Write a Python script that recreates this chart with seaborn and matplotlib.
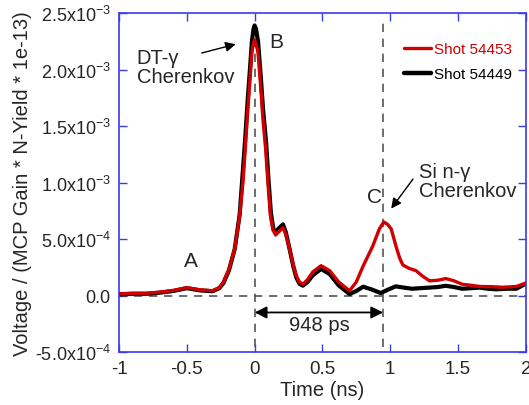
import matplotlib
matplotlib.use("Agg")
import matplotlib.pyplot as plt
from matplotlib.lines import Line2D
import numpy as np
import pandas as pd
import seaborn as sns

# time (ns) and normalised voltage (x1e-4)
t_red = [-1.0, -0.9, -0.8, -0.7, -0.6, -0.5, -0.4, -0.31, -0.26, -0.23, -0.19, -0.147,
         -0.11, -0.086, -0.069, -0.05, -0.037, -0.02, -0.008, 0.0, 0.01, 0.025, 0.044,
         0.062, 0.081, 0.098, 0.116, 0.135, 0.155, 0.175, 0.209, 0.23, 0.258, 0.285,
         0.307, 0.33, 0.356, 0.39, 0.43, 0.49, 0.553, 0.62, 0.70, 0.75, 0.80, 0.872,
         0.92, 0.953, 0.98, 1.007, 1.044, 1.07, 1.093, 1.14, 1.19, 1.24, 1.29, 1.35,
         1.41, 1.47, 1.53, 1.6, 1.66, 1.75, 1.83, 1.93, 2.0]
v_red = [0.15, 0.2, 0.2, 0.3, 0.45, 0.7, 0.5, 0.42, 0.7, 1.2, 2.3, 4.1,
         7.1, 10.0, 13.0, 16.5, 18.6, 21.5, 22.4, 22.6, 22.3, 21.5, 18.6,
         15.5, 13.0, 10.0, 7.1, 5.8, 5.35, 5.6, 6.0, 5.4, 4.1, 2.7,
         1.75, 1.2, 1.0, 1.4, 2.1, 2.64, 2.2, 1.2, 0.42, 1.2, 2.6, 4.4,
         5.9, 6.5, 6.3, 5.9, 4.3, 3.3, 2.7, 2.4, 2.2, 1.7, 1.3, 1.35,
         1.5, 1.3, 1.0, 0.9, 0.8, 0.78, 0.73, 0.8, 1.1]

t_black = [-1.0, -0.9, -0.8, -0.7, -0.6, -0.5, -0.4, -0.31, -0.26, -0.23, -0.19, -0.147,
           -0.11, -0.09, -0.07, -0.05, -0.037, -0.02, -0.008, 0.0, 0.01, 0.025, 0.044,
           0.062, 0.085, 0.102, 0.12, 0.138, 0.155, 0.175, 0.209, 0.23, 0.258, 0.285,
           0.307, 0.33, 0.356, 0.39, 0.43, 0.49, 0.553, 0.62, 0.70, 0.75, 0.80, 0.86,
           0.93, 0.98, 1.04, 1.1, 1.16, 1.22, 1.29, 1.35, 1.41, 1.47, 1.53, 1.6,
           1.66, 1.72, 1.78, 1.86, 1.93, 2.0]
v_black = [0.1, 0.15, 0.15, 0.25, 0.4, 0.65, 0.45, 0.38, 0.65, 1.1, 2.2, 4.1,
           7.2, 10.5, 13.8, 17.5, 19.6, 22.5, 23.6, 23.9, 23.6, 22.5, 19.6,
           16.5, 13.5, 10.3, 7.3, 5.9, 5.6, 5.9, 6.3, 5.6, 4.1, 2.6,
           1.6, 1.05, 0.87, 1.2, 1.8, 2.35, 1.9, 0.9, 0.13, 0.4, 0.78, 0.55,
           0.22, 0.5, 0.81, 0.7, 0.6, 0.65, 0.7, 0.75, 0.86, 0.75, 0.6, 0.65,
           0.7, 0.6, 0.55, 0.6, 0.6, 1.05]

shots = ["Shot 54453", "Shot 54449"]
x_ticks = [-1, -0.5, 0, 0.5, 1, 1.5, 2]
x_labels = ["-1", "-0.5", "0", "0.5", "1", "1.5", "2"]
y_ticks = [-5e-4, 0, 5e-4, 1e-3, 1.5e-3, 2e-3, 2.5e-3]
y_labels = ["-5.0x10$^{-4}$", "0.0", "5.0x10$^{-4}$", "1.0x10$^{-3}$",
            "1.5x10$^{-3}$", "2.0x10$^{-3}$", "2.5x10$^{-3}$"]

df = pd.concat([
    pd.DataFrame({"t": t_black, "v": np.array(v_black) * 1e-4, "shot": shots[1]}),
    pd.DataFrame({"t": t_red, "v": np.array(v_red) * 1e-4, "shot": shots[0]}),
])

sns.set_style("ticks")
plt.rcParams["font.family"] = ["Liberation Sans", "DejaVu Sans"]
plt.rcParams["mathtext.fontset"] = "custom"
plt.rcParams["mathtext.rm"] = "Liberation Sans"
plt.rcParams["mathtext.it"] = "Liberation Sans:italic"

red = "#d00000"
blue = "#3a3aee"

fig = plt.figure(figsize=(5.29, 4.06), dpi=100)
ax = fig.add_axes([0.225, 0.1305, 0.769, 0.835])

# reference lines
ax.axhline(0, color="#555555", lw=1.2, ls=(0, (5, 4)), zorder=1)
ax.vlines([0, 0.948], [-4.6e-4, -4.6e-4], [2.3e-3, 2.42e-3],
          color="#555555", lw=1.2, linestyles=(0, (5, 4)), zorder=1)

sns.lineplot(data=df, x="t", y="v", hue="shot", hue_order=shots,
             palette={shots[0]: red, shots[1]: "black"}, sort=False,
             estimator=None, ax=ax, legend=False, zorder=3)
for ln in ax.get_lines():
    ln.set_solid_joinstyle("round")
    if ln.get_color() == "black":
        ln.set_linewidth(3.0)
        ln.set_zorder(2)
    elif ln.get_color() == red:
        ln.set_linewidth(2.4)
        ln.set_zorder(3)

handles = [Line2D([], [], color=red, lw=2.4), Line2D([], [], color="black", lw=3.2)]
ax.legend(handles, shots, loc="upper right", bbox_to_anchor=(1.0, 0.955),
          frameon=False, fontsize=11, handlelength=1.8, handletextpad=0.2,
          labelspacing=0.75, labelcolor=[red, "black"])

ax.set_xlim(-1, 2)
ax.set_ylim(-5e-4, 2.5e-3)
ax.set_xticks(x_ticks)
ax.set_xticklabels(x_labels, fontsize=13.5)
ax.set_yticks(y_ticks)
ax.set_yticklabels(y_labels, fontsize=13)
ax.tick_params(direction="in", length=6, width=1, color=blue,
               top=True, right=True, pad=6)
for sp in ax.spines.values():
    sp.set_color(blue)
    sp.set_linewidth(1.2)
ax.set_xlabel("Time (ns)", fontsize=14.5, labelpad=2)
ax.set_ylabel("Voltage / (MCP Gain * N-Yield * 1e-13)", fontsize=14.5, labelpad=2)

# annotations
ax.text(-0.47, 3.1e-4, "A", fontsize=15, ha="center", va="center")
ax.text(0.16, 2.25e-3, "B", fontsize=15, ha="center", va="center")
ax.text(0.885, 8.8e-4, "C", fontsize=15, ha="center", va="center")
ax.text(-0.87, 2.02e-3, "DT-γ\nCherenkov", fontsize=14.5, ha="left", va="center",
        linespacing=1.0)
ax.annotate("", xy=(-0.12, 2.23e-3), xytext=(-0.41, 2.14e-3),
            arrowprops=dict(arrowstyle="-|>", color="black", lw=1, mutation_scale=15))
ax.text(1.215, 1.016e-3, "Si n-γ\nCherenkov", fontsize=14.5, ha="left", va="center",
        linespacing=1.0)
ax.annotate("", xy=(0.995, 7.5e-4), xytext=(1.18, 1.05e-3),
            arrowprops=dict(arrowstyle="-|>", color="black", lw=1, mutation_scale=15))
ax.annotate("", xy=(0.0, -1.5e-4), xytext=(0.948, -1.5e-4),
            arrowprops=dict(arrowstyle="<|-|>", color="black", lw=1.3, mutation_scale=18,
                            shrinkA=0, shrinkB=0))
ax.text(0.48, -2.6e-4, "948 ps", fontsize=14.5, ha="center", va="center")

fig.savefig("out.png", dpi=100)
